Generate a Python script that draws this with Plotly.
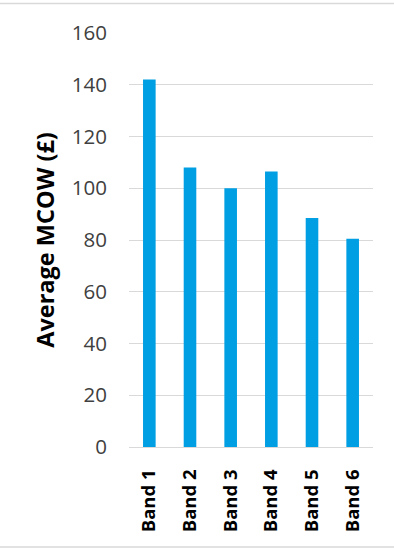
import plotly.graph_objects as go

bands = ["Band 1", "Band 2", "Band 3", "Band 4", "Band 5", "Band 6"]
avg_mcow = [142, 108, 100, 106.5, 88.5, 80.5]
y_ticks = [0, 20, 40, 60, 80, 100, 120, 140, 160]

W, H = 394, 548
L, R, T, B = 129, 21, 33, 101
pw, ph = W - L - R, H - T - B

fig = go.Figure(
    go.Bar(
        x=bands,
        y=avg_mcow,
        marker=dict(color="#009FE3", line=dict(width=0)),
        width=0.31,
        hoverinfo="x+y",
    )
)

frame = "#D9D9D9"
# outer chart border (top and bottom edges)
for yp in [(H - B - 3.5) / ph, (H - B - 547) / ph]:
    fig.add_shape(
        type="line", xref="paper", yref="paper",
        x0=-L / pw, x1=(W - L) / pw, y0=yp, y1=yp,
        line=dict(color=frame, width=1.5),
    )

fig.update_layout(
    width=W,
    height=H,
    margin=dict(l=L, r=R, t=T, b=B),
    paper_bgcolor="white",
    plot_bgcolor="white",
    showlegend=False,
    font=dict(family="Open Sans, sans-serif", color="#404040"),
    bargap=0.69,
)

fig.update_yaxes(
    range=[0, 160],
    tickvals=y_ticks,
    showgrid=True,
    gridcolor=frame,
    gridwidth=1,
    zeroline=False,
    showline=False,
    tickfont=dict(size=20.5, color="#404040"),
    ticklabelstandoff=21,
    title=dict(
        text="<b>Average MCOW (£)</b>",
        font=dict(size=23.5, color="#000000"),
        standoff=10,
    ),
)

fig.update_xaxes(
    showgrid=False,
    showline=True,
    linecolor=frame,
    linewidth=1,
    tickangle=-90,
    tickfont=dict(size=18.5, color="#000000"),
    ticklabelstandoff=14,
    tickprefix="<b>",
    ticksuffix="</b>",
)

fig.write_html("out.html")
